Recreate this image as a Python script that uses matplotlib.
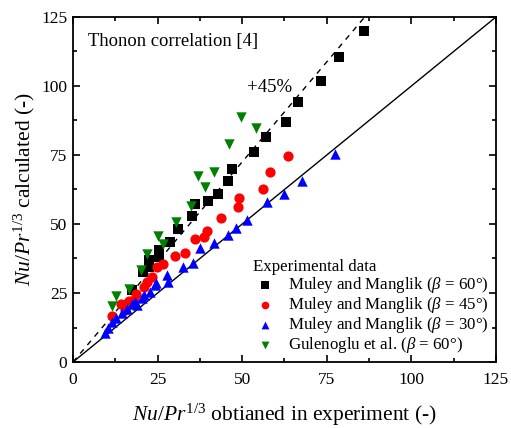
import numpy as np
import matplotlib
matplotlib.use('Agg')
import matplotlib.pyplot as plt
from matplotlib.ticker import MultipleLocator

plt.rcParams['font.family'] = ['Liberation Serif', 'DejaVu Serif']
plt.rcParams['mathtext.fontset'] = 'custom'
plt.rcParams['mathtext.rm'] = 'Liberation Serif'
plt.rcParams['mathtext.it'] = 'Liberation Serif:italic'
plt.rcParams['mathtext.bf'] = 'Liberation Serif:bold'

# Muley and Manglik, beta = 60
mm60_x = [17.4, 20.7, 22.5, 22.5, 25.4, 25.4, 28.7, 31.0, 35.2, 36.1, 39.9, 42.8, 45.8, 47.0,
          53.5, 57.0, 62.9, 66.5, 73.3, 78.6, 86.0]
mm60_y = [26.1, 32.6, 34.4, 37.0, 38.0, 40.6, 43.5, 48.2, 52.9, 57.2, 58.3, 60.9, 65.6, 69.9,
          76.1, 81.5, 87.0, 94.2, 101.8, 110.5, 119.9]
# Muley and Manglik, beta = 45
mm45_x = [11.4, 14.2, 15.4, 16.6, 18.1, 18.6, 21.0, 21.8, 23.3, 24.9, 26.5, 30.1, 33.1, 36.1,
          38.7, 39.7, 43.6, 48.9, 49.2, 56.2, 58.2, 63.6]
mm45_y = [16.8, 20.9, 18.8, 22.1, 22.5, 24.6, 27.3, 28.9, 30.9, 34.5, 35.5, 38.5, 39.4, 44.5,
          45.2, 47.6, 52.3, 56.3, 59.5, 62.6, 69.0, 74.8]
# Muley and Manglik, beta = 30
mm30_x = [9.5, 10.4, 11.4, 12.7, 14.4, 15.9, 17.3, 18.3, 18.8, 20.3, 21.0, 22.8, 24.2, 24.5,
          27.7, 28.2, 32.6, 35.4, 37.5, 41.7, 45.7, 48.1, 51.3, 57.4, 62.4, 67.6, 77.5]
mm30_y = [10.4, 12.2, 14.6, 15.8, 17.6, 19.2, 20.9, 21.8, 20.7, 23.1, 24.3, 25.5, 27.9, 28.7,
          31.5, 29.1, 34.3, 35.8, 41.2, 43.0, 46.0, 48.4, 51.4, 58.1, 60.8, 65.7, 75.4]
# Gulenoglu et al., beta = 60
gul_x = [11.4, 12.6, 16.6, 20.1, 22.0, 25.2, 26.6, 30.4, 35.0, 37.0, 39.0, 41.8, 46.0, 49.5, 54.1]
gul_y = [20.2, 24.0, 26.3, 33.3, 39.1, 45.7, 42.9, 50.6, 56.7, 67.5, 63.3, 68.7, 79.0, 88.6, 84.9]

labels = [r'Muley and Manglik ($\beta$ = 60°)',
          r'Muley and Manglik ($\beta$ = 45°)',
          r'Muley and Manglik ($\beta$ = 30°)',
          r'Gulenoglu et al. ($\beta$ = 60°)']

fig = plt.figure(figsize=(5.11, 4.28), dpi=100)
ax = fig.add_axes([0.1429, 0.1542, 0.8277, 0.8061])

lim = 125
ax.plot([0, lim], [0, lim], color='black', lw=1.0, zorder=1)
ax.plot([0, lim / 1.45], [0, lim], color='black', lw=1.0, ls=(0, (4, 4)), zorder=1)

ms = 46
ax.scatter(mm60_x, mm60_y, marker='s', s=ms, color='black', lw=0, label=labels[0], zorder=3)
ax.scatter(mm45_x, mm45_y, marker='o', s=ms + 8, color='#ff0000', lw=0, label=labels[1], zorder=3)
ax.scatter(mm30_x, mm30_y, marker='^', s=ms + 10, color='#0000ff', lw=0, label=labels[2], zorder=3)
ax.scatter(gul_x, gul_y, marker='v', s=ms + 10, color='#008000', lw=0, label=labels[3], zorder=3)

ax.text(51.5, 99.3, '+45%', fontsize=13.5, va='center', ha='left')
ax.text(4.4, 116, 'Thonon correlation [4]', fontsize=13.4, va='center', ha='left')

ax.set_xlim(0, lim)
ax.set_ylim(0, lim)
ax.xaxis.set_major_locator(MultipleLocator(25))
ax.yaxis.set_major_locator(MultipleLocator(25))
ax.xaxis.set_minor_locator(MultipleLocator(12.5))
ax.yaxis.set_minor_locator(MultipleLocator(12.5))
ax.tick_params(which='both', direction='in', top=True, right=True, width=1.2, labelsize=12.5)
ax.tick_params(which='major', length=5)
ax.tick_params(which='minor', length=3)
ax.tick_params(axis='x', pad=7)
ax.tick_params(axis='y', pad=4)
for sp in ax.spines.values():
    sp.set_linewidth(1.3)

ax.set_xlabel(r'$Nu/Pr^{1/3}$ obtianed in experiment (-)', fontsize=15.5, labelpad=10)
ax.set_ylabel(r'$Nu/Pr^{1/3}$ calculated (-)', fontsize=15.5, labelpad=3)

leg = ax.legend(title='Experimental data', loc='lower right', frameon=False, fontsize=12.2,
                title_fontsize=12.2, handletextpad=0.7, borderaxespad=0.0, labelspacing=0.0,
                handlelength=1.4, markerscale=0.75, bbox_to_anchor=(1.0, 0.0))
leg._legend_box.align = 'left'

fig.savefig('out.png', dpi=100)
